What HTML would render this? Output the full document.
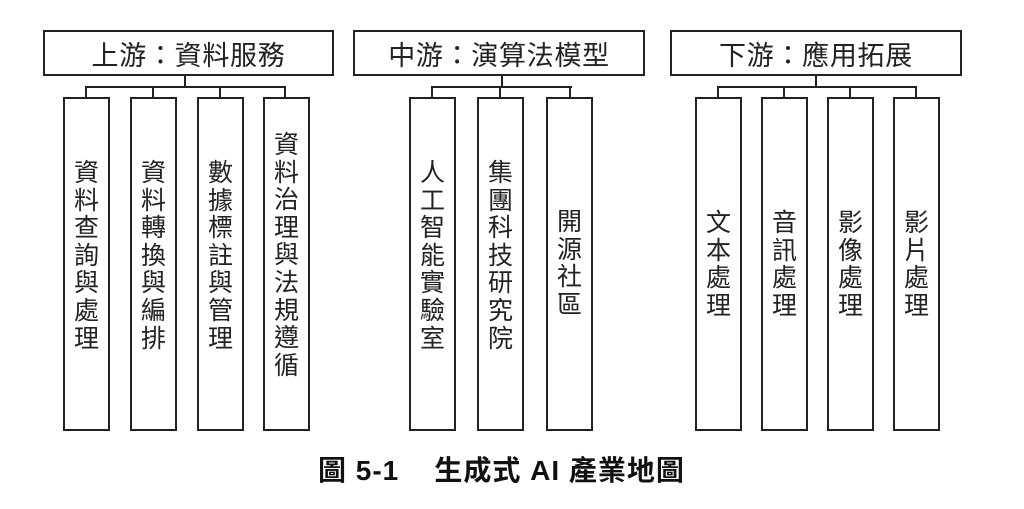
<!DOCTYPE html>
<html><head><meta charset="utf-8"><style>
body{margin:0;width:1024px;height:509px;background:#fff;position:relative;overflow:hidden;font-family:"Liberation Sans","Noto Sans CJK TC",sans-serif;color:#222}
.b{position:absolute;border:2px solid #222;box-sizing:border-box;background:#fff}
.h{display:flex;align-items:center;justify-content:center;font-size:27px;height:46px;top:30px;letter-spacing:0.7px}
.c{top:97px;height:334px;width:47px}
.t{position:absolute;left:0;right:0;text-align:center;font-size:25px;line-height:27.6px}
.l{position:absolute;background:#222}
.cap{position:absolute;left:318px;top:449px;font-size:28px;letter-spacing:1px;font-weight:bold;color:#111;white-space:pre}
</style></head><body>
<div class="b h" style="left:43px;width:291px">上游：資料服務</div>
<div class="b h" style="left:353px;width:292px">中游：演算法模型</div>
<div class="b h" style="left:670px;width:292px">下游：應用拓展</div>

<div class="l" style="left:184px;top:75px;width:2px;height:12px"></div>
<div class="l" style="left:85px;top:86px;width:201px;height:2px"></div>
<div class="l" style="left:85px;top:86px;width:2px;height:12px"></div>
<div class="l" style="left:152px;top:86px;width:2px;height:12px"></div>
<div class="l" style="left:219px;top:86px;width:2px;height:12px"></div>
<div class="l" style="left:284px;top:86px;width:2px;height:12px"></div>

<div class="l" style="left:501px;top:75px;width:2px;height:12px"></div>
<div class="l" style="left:431px;top:86px;width:141px;height:2px"></div>
<div class="l" style="left:431px;top:86px;width:2px;height:12px"></div>
<div class="l" style="left:499px;top:86px;width:2px;height:12px"></div>
<div class="l" style="left:569px;top:86px;width:2px;height:12px"></div>

<div class="l" style="left:815px;top:75px;width:2px;height:12px"></div>
<div class="l" style="left:717px;top:86px;width:200px;height:2px"></div>
<div class="l" style="left:717px;top:86px;width:2px;height:12px"></div>
<div class="l" style="left:783px;top:86px;width:2px;height:12px"></div>
<div class="l" style="left:849px;top:86px;width:2px;height:12px"></div>
<div class="l" style="left:915px;top:86px;width:2px;height:12px"></div>

<div class="b c" style="left:63px"><div class="t" style="top:61px">資<br>料<br>查<br>詢<br>與<br>處<br>理</div></div>
<div class="b c" style="left:130px"><div class="t" style="top:61px">資<br>料<br>轉<br>換<br>與<br>編<br>排</div></div>
<div class="b c" style="left:197px"><div class="t" style="top:61px">數<br>據<br>標<br>註<br>與<br>管<br>理</div></div>
<div class="b c" style="left:263px"><div class="t" style="top:33px">資<br>料<br>治<br>理<br>與<br>法<br>規<br>遵<br>循</div></div>

<div class="b c" style="left:409px"><div class="t" style="top:61px">人<br>工<br>智<br>能<br>實<br>驗<br>室</div></div>
<div class="b c" style="left:477px"><div class="t" style="top:61px">集<br>團<br>科<br>技<br>研<br>究<br>院</div></div>
<div class="b c" style="left:546px"><div class="t" style="top:110px">開<br>源<br>社<br>區</div></div>

<div class="b c" style="left:695px"><div class="t" style="top:111px">文<br>本<br>處<br>理</div></div>
<div class="b c" style="left:761px"><div class="t" style="top:111px">音<br>訊<br>處<br>理</div></div>
<div class="b c" style="left:827px"><div class="t" style="top:111px">影<br>像<br>處<br>理</div></div>
<div class="b c" style="left:893px"><div class="t" style="top:111px">影<br>片<br>處<br>理</div></div>

<div class="cap">圖 5-1    生成式 AI 產業地圖</div>
</body></html>
